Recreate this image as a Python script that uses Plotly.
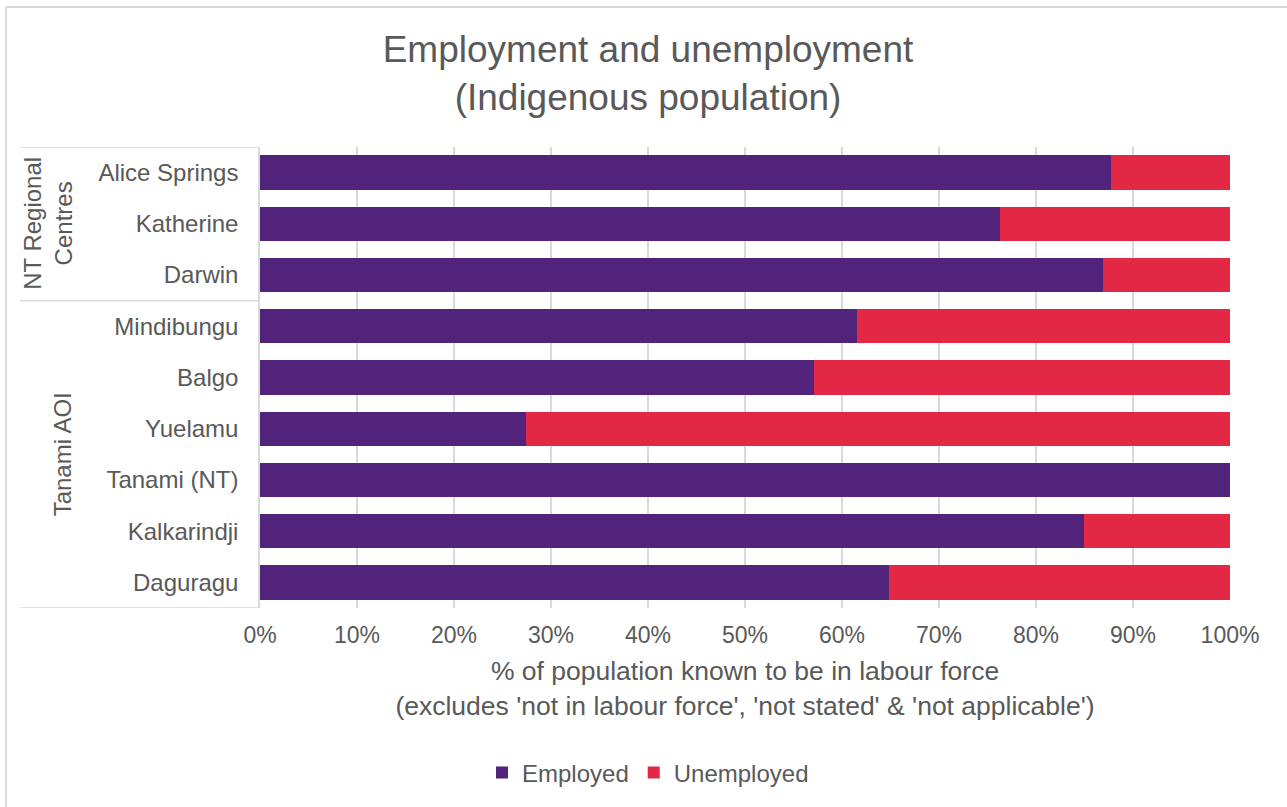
import plotly.graph_objects as go

categories = ["Alice Springs", "Katherine", "Darwin", "Mindibungu", "Balgo",
              "Yuelamu", "Tanami (NT)", "Kalkarindji", "Daguragu"]
employed = [87.7, 76.3, 86.9, 61.5, 57.1, 27.4, 100.0, 84.9, 64.8]
unemployed = [12.3, 23.7, 13.1, 38.5, 42.9, 72.6, 0.0, 15.1, 35.2]
groups = ["NT Regional<br>Centres", "Tanami AOI"]
x_ticks = [0, 10, 20, 30, 40, 50, 60, 70, 80, 90, 100]
x_tick_labels = ["0%", "10%", "20%", "30%", "40%", "50%", "60%", "70%", "80%", "90%", "100%"]

TXT = "#595959"
FONT = "Liberation Sans, Arial, sans-serif"
W, H = 1287, 807
L, R, T, B = 260, 57, 147, 199
pw = W - L - R
ph = H - T - B

def pxx(px):
    return (px - L) / pw

def pxy(py):
    return (H - B - py) / ph

fig = go.Figure()
fig.add_trace(go.Bar(y=categories, x=employed, name="Employed", orientation="h",
                     marker=dict(color="#51237a", line=dict(width=0))))
fig.add_trace(go.Bar(y=categories, x=unemployed, name="Unemployed", orientation="h",
                     marker=dict(color="#e32845", line=dict(width=0))))

fig.update_layout(
    width=W, height=H,
    barmode="stack", bargap=0.33,
    paper_bgcolor="white", plot_bgcolor="white",
    margin=dict(l=L, r=R, t=T, b=B),
    font=dict(family=FONT, color=TXT, size=24),
    title=dict(text="Employment and unemployment<br>(Indigenous population)",
               x=648 / W, xref="container", xanchor="center",
               y=1 - 62 / H, yref="container", yanchor="middle",
               font=dict(size=37, color=TXT, family=FONT)),
    legend=dict(orientation="h", x=648 / W, xref="container", xanchor="center",
                y=1 - 773 / H, yref="container", yanchor="middle",
                font=dict(size=24, color=TXT), itemwidth=30,
                traceorder="normal"),
    xaxis=dict(range=[0, 100], tickvals=x_ticks, ticktext=x_tick_labels,
               showgrid=True, gridcolor="#d9d9d9", gridwidth=1.5,
               zeroline=False, showline=False, ticks="",
               ticklabelstandoff=11,
               tickfont=dict(size=23, color=TXT),
               title=dict(text="% of population known to be in labour force<br>(excludes 'not in labour force', 'not stated' & 'not applicable')",
                          font=dict(size=26.5, color=TXT), standoff=14)),
    yaxis=dict(categoryorder="array", categoryarray=categories,
               autorange=False, range=[8.5, -0.5],
               showgrid=False, zeroline=False,
               showline=True, linecolor="#d9d9d9", linewidth=1.5,
               ticks="", ticklabelstandoff=15,
               tickfont=dict(size=24, color=TXT)),
)

# group box lines
for yv in [-0.5, 2.5, 8.5]:
    fig.add_shape(type="line", xref="paper", yref="y", x0=pxx(20), x1=pxx(259), y0=yv, y1=yv,
                  line=dict(color="#d9d9d9", width=1.5))

# group labels
fig.add_annotation(text=groups[0], xref="paper", yref="y", x=pxx(48), y=1,
                   textangle=-90, showarrow=False, font=dict(size=24, color=TXT),
                   xanchor="center", yanchor="middle")
fig.add_annotation(text=groups[1], xref="paper", yref="y", x=pxx(62), y=5.5,
                   textangle=-90, showarrow=False, font=dict(size=24, color=TXT),
                   xanchor="center", yanchor="middle")

# chart border (top and left)
fig.add_shape(type="line", xref="paper", yref="paper",
              x0=pxx(6), x1=pxx(W + 5), y0=pxy(7), y1=pxy(7),
              line=dict(color="#d9d9d9", width=2))
fig.add_shape(type="line", xref="paper", yref="paper",
              x0=pxx(6), x1=pxx(6), y0=pxy(7), y1=pxy(H + 5),
              line=dict(color="#d9d9d9", width=2))

fig.write_html("out.html", config={"displayModeBar": False},
               post_script="document.body.style.margin='0px';document.body.style.overflow='hidden';")
